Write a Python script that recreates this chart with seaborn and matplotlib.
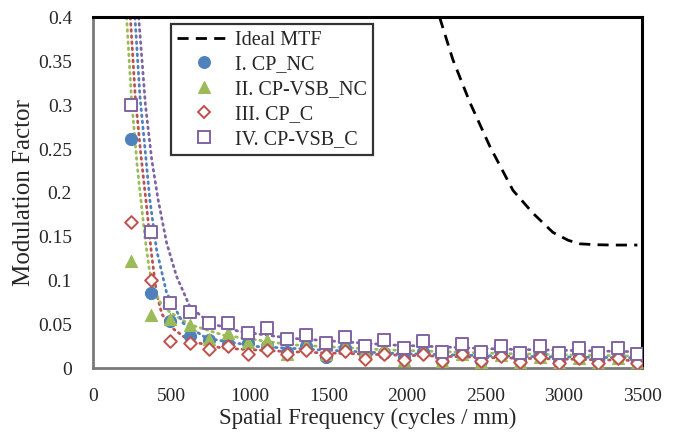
import numpy as np
import pandas as pd
import matplotlib
matplotlib.use("Agg")
import matplotlib.pyplot as plt
from matplotlib.ticker import MultipleLocator, FuncFormatter
from matplotlib.lines import Line2D
import seaborn as sns

# ---------------- data ----------------
freq = [244, 368, 492, 616, 740, 864, 988, 1112, 1236, 1360, 1484, 1608, 1732, 1856,
        1980, 2104, 2228, 2352, 2476, 2600, 2724, 2848, 2972, 3096, 3220, 3344, 3468]

cp_nc = [0.261, 0.086, 0.0545, 0.037, 0.032, 0.028, 0.029, 0.025, 0.019, 0.025, 0.0135,
         0.023, 0.013, 0.018, 0.013, 0.019, 0.009, 0.018, 0.008, 0.016, 0.008, 0.015,
         0.007, 0.013, 0.007, 0.013, 0.007]
cp_vsb_nc = [0.122, 0.061, 0.056, 0.049, 0.033, 0.040, 0.030, 0.032, 0.017, 0.027, 0.017,
             0.025, 0.020, 0.024, 0.010, 0.021, 0.008, 0.017, 0.007, 0.015, 0.007, 0.0135,
             0.006, 0.012, 0.006, 0.012, 0.006]
cp_c = [0.167, 0.101, 0.031, 0.029, 0.022, 0.026, 0.017, 0.021, 0.016, 0.021, 0.015,
        0.020, 0.0105, 0.016, 0.010, 0.017, 0.008, 0.0165, 0.008, 0.014, 0.007, 0.013,
        0.006, 0.012, 0.006, 0.0115, 0.0065]
cp_vsb_c = [0.300, 0.155, 0.075, 0.064, 0.052, 0.0515, 0.040, 0.046, 0.033, 0.038, 0.029,
            0.036, 0.025, 0.032, 0.023, 0.031, 0.019, 0.028, 0.019, 0.026, 0.018, 0.025,
            0.018, 0.023, 0.018, 0.023, 0.017]

# dotted trend curves
trend_nc_x = [268, 300, 335, 363, 406, 470, 576, 725, 1043, 1468, 1893, 2600, 3468]
trend_nc_y = [0.40, 0.31, 0.245, 0.192, 0.135, 0.086, 0.0515, 0.0344, 0.025, 0.021,
              0.0173, 0.014, 0.012]
trend_vsb_nc_x = [215, 245, 280, 310, 335, 360, 390, 430, 491, 618, 830, 1256, 1893,
                  2600, 3468]
trend_vsb_nc_y = [0.40, 0.31, 0.235, 0.185, 0.145, 0.112, 0.090, 0.075, 0.064, 0.050,
                  0.038, 0.027, 0.021, 0.017, 0.014]
trend_c_x = [239, 270, 305, 342, 374, 406, 440, 491, 618, 830, 1256, 1893, 2600, 3468]
trend_c_y = [0.40, 0.31, 0.245, 0.185, 0.130, 0.085, 0.062, 0.048, 0.031, 0.023, 0.019,
             0.0154, 0.012, 0.009]
trend_vsb_c_x = [292, 335, 375, 416, 470, 533, 618, 746, 937, 1256, 1893, 2600, 3468]
trend_vsb_c_y = [0.40, 0.30, 0.238, 0.192, 0.143, 0.105, 0.0705, 0.0515, 0.042, 0.0344,
                 0.0268, 0.022, 0.019]

ideal_x = [2210, 2294, 2403, 2530, 2677, 2804, 2932, 3030, 3104, 3200, 3314, 3470]
ideal_y = [0.400, 0.352, 0.303, 0.253, 0.203, 0.177, 0.155, 0.146, 0.142, 0.141, 0.1406, 0.1406]

series_names = ["I. CP_NC", "II. CP-VSB_NC", "III. CP_C", "IV. CP-VSB_C"]
series_vals = [cp_nc, cp_vsb_nc, cp_c, cp_vsb_c]
trend_xs = [trend_nc_x, trend_vsb_nc_x, trend_c_x, trend_vsb_c_x]
trend_ys = [trend_nc_y, trend_vsb_nc_y, trend_c_y, trend_vsb_c_y]
colors = ["#4F81BD", "#9BBB59", "#C0504D", "#8064A2"]
markers = ["o", "^", "D", "s"]
filled = [True, True, False, False]

x_ticks = [0, 500, 1000, 1500, 2000, 2500, 3000, 3500]
y_ticks = [0, 0.05, 0.1, 0.15, 0.2, 0.25, 0.3, 0.35, 0.4]

# ---------------- plot ----------------
sns.set_theme(style="white")
plt.rcParams["font.family"] = ["Liberation Serif", "DejaVu Serif"]

fig = plt.figure(figsize=(6.78, 4.36), dpi=100)
ax = fig.add_axes([0.137, 0.155, 0.810, 0.805])

# dotted trend curves (reverse order so blue ends on top)
for tx, ty, c in list(zip(trend_xs, trend_ys, colors))[::-1]:
    tdf = pd.DataFrame({"x": tx, "y": ty})
    sns.lineplot(data=tdf, x="x", y="y", ax=ax, color=c, lw=2.0,
                 linestyle=(0, (0.6, 1.6)), dash_capstyle="round", sort=False,
                 estimator=None, legend=False, zorder=2)

# ideal MTF
idf = pd.DataFrame({"x": ideal_x, "y": ideal_y})
sns.lineplot(data=idf, x="x", y="y", ax=ax, color="black", lw=2.0,
             linestyle=(0, (4, 2.6)), sort=False, estimator=None, legend=False,
             zorder=3)

# markers
for name, vals, c, m, f in zip(series_names, series_vals, colors, markers, filled):
    df = pd.DataFrame({"x": freq, "y": vals})
    size = 75 if m != "D" else 42
    if f:
        sns.scatterplot(data=df, x="x", y="y", ax=ax, marker=m, s=size,
                        color=c, edgecolor=c, linewidth=0.8, legend=False, zorder=4)
    else:
        sns.scatterplot(data=df, x="x", y="y", ax=ax, marker=m, s=size,
                        facecolor="white", edgecolor=c, linewidth=1.4,
                        legend=False, zorder=4)

ax.set_xlim(0, 3500)
ax.set_ylim(0, 0.4)
ax.set_xticks(x_ticks)
ax.set_yticks(y_ticks)
ax.xaxis.set_minor_locator(MultipleLocator(100))
ax.yaxis.set_minor_locator(MultipleLocator(0.005))
ax.yaxis.set_major_formatter(FuncFormatter(lambda v, p: "0" if v == 0 else f"{v:g}"))
ax.tick_params(axis="both", which="major", direction="in", length=4, width=0.8,
               color="#808080", labelsize=14)
ax.tick_params(axis="both", which="minor", direction="in", length=2.5, width=0.6,
               color="#808080")
ax.tick_params(axis="x", which="major", pad=14)
ax.tick_params(axis="y", which="major", pad=15)

ax.set_xlabel("Spatial Frequency (cycles / mm)", fontsize=16.5, labelpad=2)
ax.set_ylabel("Modulation Factor", fontsize=18)
ax.yaxis.set_label_coords(-0.106, 0.5)

for side in ["top", "right"]:
    ax.spines[side].set_color("black")
    ax.spines[side].set_linewidth(2.2)
for side in ["left", "bottom"]:
    ax.spines[side].set_color("#7a7a7a")
    ax.spines[side].set_linewidth(2.0)
ax.grid(False)

handles = [Line2D([0], [0], color="black", lw=2.0, linestyle=(0, (4, 2.6)))]
for c, m, f in zip(colors, markers, filled):
    ms = 8.5 if m != "D" else 6.5
    handles.append(Line2D([0], [0], linestyle="none", marker=m, markersize=ms,
                          markerfacecolor=c if f else "white",
                          markeredgecolor=c, markeredgewidth=1.4 if not f else 0.8))
labels = ["Ideal MTF"] + series_names
leg = ax.legend(handles, labels, loc="upper left", bbox_to_anchor=(0.142, 0.981),
                fontsize=14.5, frameon=True, fancybox=False, edgecolor="black",
                handlelength=2.65, handletextpad=0.2, labelspacing=0.28,
                borderpad=0.32, borderaxespad=0.0)
leg.get_frame().set_linewidth(1.6)

fig.savefig("out.png", dpi=100)
